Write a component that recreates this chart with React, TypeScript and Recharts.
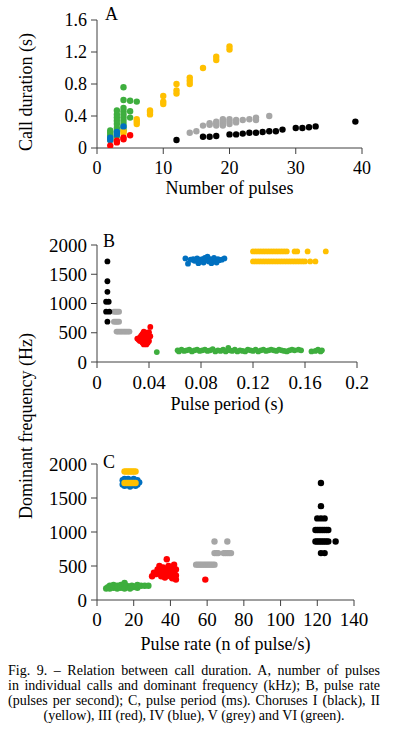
import React from "react";
import { ScatterChart, Scatter, XAxis, YAxis } from "recharts";

// ---------- Panel A: number of pulses vs call duration (s) ----------
const aI = [[12,0.10],[16,0.14],[17,0.14],[18,0.15],[20,0.17],[21,0.17],[22,0.18],[23,0.19],[24,0.19],[25,0.20],[26,0.21],[27,0.21],[28,0.23],[30,0.25],[31,0.25],[32,0.26],[33,0.27],[39,0.33]];
const aII = [[4,0.18],[4,0.21],[6,0.30],[6,0.33],[6,0.36],[8,0.42],[8,0.45],[8,0.47],[10,0.55],[10,0.58],[10,0.65],[12,0.68],[12,0.72],[12,0.80],[14,0.80],[14,0.84],[14,0.88],[16,1.00],[18,1.10],[18,1.14],[20,1.23],[20,1.27]];
const aIII = [[2,0.03],[3,0.07],[3,0.09],[4,0.11],[4,0.13],[5,0.16]];
const aIV = [[2,0.10],[2,0.13],[3,0.17],[3,0.20],[4,0.27]];
const aV = [[14,0.19],[15,0.21],[16,0.28],[17,0.29],[17,0.31],[18,0.28],[18,0.31],[18,0.33],[19,0.28],[19,0.31],[19,0.34],[19,0.36],[20,0.30],[20,0.33],[20,0.36],[21,0.32],[21,0.35],[22,0.35],[23,0.36],[24,0.35],[24,0.38],[26,0.40]];
const aVI = [[2,0.10],[2,0.13],[2,0.16],[2,0.19],[2,0.22],[3,0.15],[3,0.20],[3,0.25],[3,0.30],[3,0.34],[3,0.38],[3,0.42],[3,0.47],[4,0.22],[4,0.26],[4,0.30],[4,0.34],[4,0.38],[4,0.42],[4,0.46],[4,0.50],[4,0.60],[4,0.76],[5,0.38],[5,0.46],[5,0.59],[6,0.58]];
const aXTicks = [0,10,20,30,40];
const aYTicks = [0,0.4,0.8,1.2,1.6];

// ---------- Panel B: pulse period (s) vs dominant frequency (Hz) ----------
const bI = [[0.008,1720],[0.008,1380],[0.008,1200],[0.007,1030],[0.009,1030],[0.007,860],[0.0095,860],[0.008,690]];
const bII = [[0.120,1890],[0.122,1890],[0.124,1890],[0.126,1890],[0.128,1890],[0.130,1890],[0.132,1890],[0.134,1890],[0.136,1890],[0.138,1890],[0.140,1890],[0.142,1890],[0.144,1890],[0.146,1890],[0.152,1890],[0.154,1890],[0.162,1890],[0.176,1890],
  [0.120,1720],[0.122,1720],[0.124,1720],[0.126,1720],[0.128,1720],[0.130,1720],[0.132,1720],[0.134,1720],[0.136,1720],[0.138,1720],[0.140,1720],[0.142,1720],[0.144,1720],[0.146,1720],[0.148,1720],[0.150,1720],[0.152,1720],[0.154,1720],[0.156,1720],[0.158,1720],[0.160,1720],[0.164,1720],[0.168,1720]];
const bIII = [[0.031,400],[0.032,380],[0.033,420],[0.033,360],[0.034,450],[0.034,360],[0.035,480],[0.035,330],[0.036,400],[0.036,300],[0.036,520],[0.037,440],[0.037,350],[0.038,500],[0.038,380],[0.038,300],[0.039,420],[0.039,470],[0.039,330],[0.040,360],[0.040,510],[0.041,440],[0.041,600]];
const bIV = [[0.068,1770],[0.070,1680],[0.072,1750],[0.074,1760],[0.075,1730],[0.077,1770],[0.078,1690],[0.079,1750],[0.080,1720],[0.081,1760],[0.082,1700],[0.083,1780],[0.084,1740],[0.085,1800],[0.086,1720],[0.087,1760],[0.088,1690],[0.089,1750],[0.090,1780],[0.091,1720],[0.092,1700],[0.093,1760],[0.094,1740],[0.096,1750],[0.098,1770]];
const bV = [[0.013,860],[0.014,860],[0.015,860],[0.016,860],[0.017,860],[0.013,690],[0.014,690],[0.015,690],[0.016,690],[0.017,690],[0.015,520],[0.016,520],[0.017,520],[0.018,520],[0.019,520],[0.020,520],[0.021,520],[0.022,520],[0.023,520],[0.024,520],[0.025,520]];
const bVI = [[0.046,170],[0.062,200],[0.063,180],[0.065,210],[0.067,190],[0.069,200],[0.071,210],[0.073,180],[0.075,200],[0.077,210],[0.079,190],[0.081,200],[0.083,210],[0.085,190],[0.087,200],[0.089,220],[0.091,180],[0.093,200],[0.095,190],[0.097,210],[0.099,180],[0.101,240],[0.102,200],[0.104,190],[0.106,210],[0.108,180],[0.110,200],[0.112,190],[0.114,180],[0.116,210],[0.118,200],[0.120,190],[0.122,210],[0.124,180],[0.126,200],[0.128,210],[0.130,190],[0.132,200],[0.134,210],[0.136,200],[0.138,190],[0.140,210],[0.142,200],[0.144,190],[0.146,180],[0.148,200],[0.150,210],[0.152,200],[0.155,210],[0.157,200],[0.165,180],[0.168,190],[0.170,210],[0.172,180],[0.173,200]];
const bXTicks = [0,0.04,0.08,0.12,0.16,0.2];
const freqTicks = [0,500,1000,1500,2000];

// ---------- Panel C: pulse rate (pulses/s) vs dominant frequency (Hz) ----------
const cI = [[122,1720],[122,1380],[120,1200],[122,1200],[124,1200],[119,1030],[120,1030],[121,1030],[122,1030],[123,1030],[124,1030],[125,1030],[126,1030],[119,860],[120,860],[121,860],[122,860],[123,860],[124,860],[125,860],[126,860],[130,860],[122,690],[124,690]];
const cII = [[15,1890],[16,1890],[17,1890],[18,1890],[19,1890],[20,1890],[21,1890],[15,1720],[16,1720],[17,1720],[18,1720],[19,1720],[20,1720],[21,1720]];
const cIII = [[30,350],[31,400],[32,380],[33,450],[34,500],[34,400],[35,420],[35,350],[36,480],[36,360],[37,400],[37,330],[38,600],[38,450],[39,370],[39,500],[40,420],[40,350],[41,470],[41,320],[42,520],[42,400],[43,360],[43,300],[43,450],[59,300]];
const cIV = [[14,1700],[14,1760],[15,1780],[15,1680],[16,1690],[17,1780],[18,1670],[19,1690],[20,1780],[21,1680],[22,1700],[22,1760],[23,1730]];
const cV = [[54,520],[55,520],[56,520],[57,520],[58,520],[59,520],[60,520],[61,520],[62,520],[63,520],[64,520],[64,690],[65,690],[66,690],[69,690],[70,690],[71,690],[72,690],[73,690],[64,860],[71,860]];
const cVI = [[5,170],[6,190],[7,210],[7,170],[8,200],[9,180],[9,220],[10,200],[11,170],[11,210],[12,190],[13,220],[13,180],[14,200],[15,250],[15,170],[16,210],[17,190],[18,200],[18,170],[19,210],[20,190],[21,200],[22,180],[22,220],[24,210],[26,210],[28,210]];
const cXTicks = [0,20,40,60,80,100,120,140];

// ---------- Caption lines ----------
const captionLines = [
  "Fig. 9. – Relation between call duration. A, number of pulses",
  "in individual calls and dominant frequency (kHz); B, pulse rate",
  "(pulses per second); C, pulse period (ms). Choruses I (black), II",
  "(yellow), III (red), IV (blue), V (grey) and VI (green).",
];

const COLORS = { I: "#000000", II: "#FFC000", III: "#FF0000", IV: "#0070C0", V: "#A6A6A6", VI: "#3EAE3E" };
const FONT = "Liberation Serif";

const toPts = (arr: number[][]) => arr.map(([x, y]) => ({ x, y }));

const dot = (color: string, r: number) => (props: any) => {
  const { cx, cy } = props;
  if (cx == null || cy == null) return <g />;
  return <circle cx={cx} cy={cy} r={r} fill={color} stroke="none" />;
};

const AX = "#404040";

type S = { data: number[][]; color: string; name: string };

function Panel(props: {
  top: number; height: number; margin: any; yWidth: number; xHeight: number;
  xDomain: number[]; xTicks: number[]; yDomain: number[]; yTicks: number[];
  xLabel: string; xLabelOffset: number; series: S[]; r: number; xTickMargin: number; tickFont: number;
}) {
  const p = props;
  const tickStyle = { fill: "#000", fontSize: p.tickFont, fontFamily: FONT };
  return (
    <div style={{ position: "absolute", left: 0, top: p.top }}>
      <ScatterChart width={405} height={p.height} margin={p.margin}>
        <XAxis
          type="number" dataKey="x" domain={p.xDomain} ticks={p.xTicks}
          allowDataOverflow height={p.xHeight} interval={0}
          axisLine={{ stroke: AX }} tickLine={{ stroke: AX }} tickSize={6} tickMargin={p.xTickMargin}
          tick={tickStyle}
          label={{ value: p.xLabel, position: "insideBottom", offset: p.xLabelOffset, style: { fill: "#000", fontSize: 18, fontFamily: FONT } }}
        />
        <YAxis
          type="number" dataKey="y" domain={p.yDomain} ticks={p.yTicks}
          allowDataOverflow width={p.yWidth} interval={0}
          axisLine={{ stroke: AX }} tickLine={{ stroke: AX }} tickSize={6} tickMargin={4}
          tick={tickStyle}
        />
        {p.series.map((s) => (
          <Scatter key={s.name} name={s.name} data={toPts(s.data)} fill={s.color}
            shape={dot(s.color, p.r)} isAnimationActive={false} />
        ))}
      </ScatterChart>
    </div>
  );
}

export default function App() {
  const letter = (t: string, left: number, top: number) => (
    <div style={{ position: "absolute", left, top, fontFamily: FONT, fontSize: 18, lineHeight: "18px", color: "#000" }}>{t}</div>
  );
  const vLabel = (t: string, cx: number, cy: number) => (
    <div style={{
      position: "absolute", left: cx - 150, top: cy - 10, width: 300, height: 20, textAlign: "center",
      fontFamily: FONT, fontSize: 18, lineHeight: "20px", color: "#000", transform: "rotate(-90deg)", whiteSpace: "nowrap",
    }}>{t}</div>
  );
  return (
    <div style={{ position: "absolute", left: 0, top: 0, width: 405, height: 729, background: "#fff" }}>
      <Panel top={0} height={200} margin={{ top: 20, right: 43, bottom: 0, left: 0 }} yWidth={97} xHeight={52}
        xDomain={[0, 40]} xTicks={aXTicks} yDomain={[0, 1.6]} yTicks={aYTicks}
        xLabel="Number of pulses" xLabelOffset={6} r={3.2} xTickMargin={7} tickFont={18}
        series={[
          { name: "VI", data: aVI, color: COLORS.VI },
          { name: "V", data: aV, color: COLORS.V },
          { name: "II", data: aII, color: COLORS.II },
          { name: "I", data: aI, color: COLORS.I },
          { name: "IV", data: aIV, color: COLORS.IV },
          { name: "III", data: aIII, color: COLORS.III },
        ]} />
      <Panel top={225} height={200} margin={{ top: 20, right: 48, bottom: 0, left: 0 }} yWidth={97} xHeight={63}
        xDomain={[0, 0.2]} xTicks={bXTicks} yDomain={[0, 2000]} yTicks={freqTicks}
        xLabel="Pulse period (s)" xLabelOffset={15} r={2.9} xTickMargin={8} tickFont={19}
        series={[
          { name: "VI", data: bVI, color: COLORS.VI },
          { name: "V", data: bV, color: COLORS.V },
          { name: "I", data: bI, color: COLORS.I },
          { name: "III", data: bIII, color: COLORS.III },
          { name: "IV", data: bIV, color: COLORS.IV },
          { name: "II", data: bII, color: COLORS.II },
        ]} />
      <Panel top={440} height={220} margin={{ top: 24, right: 51, bottom: 0, left: 0 }} yWidth={97} xHeight={60}
        xDomain={[0, 140]} xTicks={cXTicks} yDomain={[0, 2000]} yTicks={freqTicks}
        xLabel="Pulse rate (n of pulse/s)" xLabelOffset={10} r={3.2} xTickMargin={7} tickFont={19}
        series={[
          { name: "VI", data: cVI, color: COLORS.VI },
          { name: "V", data: cV, color: COLORS.V },
          { name: "I", data: cI, color: COLORS.I },
          { name: "III", data: cIII, color: COLORS.III },
          { name: "IV", data: cIV, color: COLORS.IV },
          { name: "II", data: cII, color: COLORS.II },
        ]} />
      {letter("A", 105, 5)}
      {letter("B", 103, 232)}
      {letter("C", 103, 453)}
      {vLabel("Call duration (s)", 26, 92)}
      {vLabel("Dominant frequency (Hz)", 26, 426)}
      <div style={{ position: "absolute", left: 8, top: 663, width: 372, fontFamily: FONT, fontSize: 14, lineHeight: "15px", color: "#000" }}>
        {captionLines.map((line, i) => (
          <div key={i} style={{
            whiteSpace: "nowrap",
            textAlign: i < captionLines.length - 1 ? "justify" : "center",
            textAlignLast: i < captionLines.length - 1 ? "justify" : "center",
          }}>{line}</div>
        ))}
      </div>
    </div>
  );
}
